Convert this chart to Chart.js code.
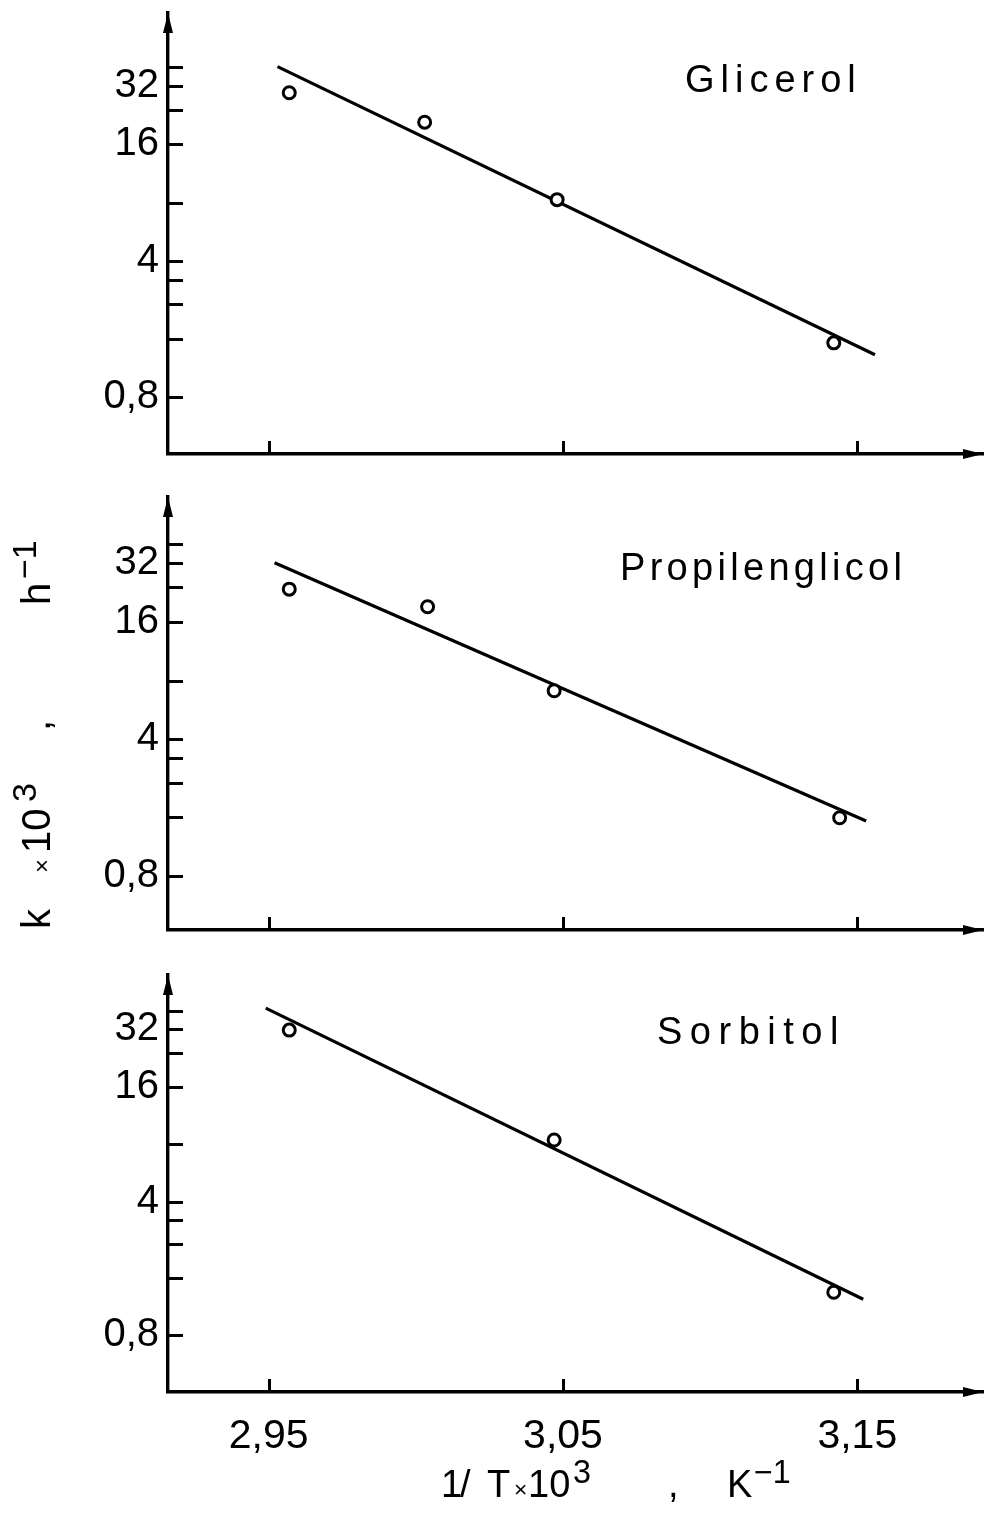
<!DOCTYPE html>
<html>
<head>
<meta charset="utf-8">
<script src="https://cdn.jsdelivr.net/npm/chart.js@4.4.1/dist/chart.umd.min.js"></script>
<style>
  html, body { margin: 0; padding: 0; background: #fff; }
  #wrap { position: relative; width: 992px; height: 1530px; overflow: hidden; }
  canvas { position: absolute; left: 0; }
</style>
</head>
<body>
<div id="wrap"></div>
<script>
// Arrhenius plots: rate constant k (log scale) against 1/T for three polyols
const xTicks = [2.95, 3.05, 3.15];
const xTickLabels = ['2,95', '3,05', '3,15'];
const yTicks = [0.8, 1.6, 2.4, 3.2, 4, 8, 16, 24, 32, 40];
const yLabelValues = [0.8, 4, 16, 32];
const yLabelTexts = ['0,8', '4', '16', '32'];

const glicerolX = [2.957, 3.003, 3.048, 3.142];
const glicerolK = [29.5, 20.8, 8.3, 1.52];
const glicerolFitX = [2.953, 3.156];
const glicerolFitK = [40.2, 1.32];

const propilenX = [2.957, 3.004, 3.047, 3.144];
const propilenK = [23.5, 19.1, 7.1, 1.59];
const propilenFitX = [2.952, 3.153];
const propilenFitK = [32.1, 1.53];

const sorbitolX = [2.957, 3.047, 3.142];
const sorbitolK = [31.6, 8.4, 1.34];
const sorbitolFitX = [2.949, 3.152];
const sorbitolFitK = [41.2, 1.23];

const FONT = '"Liberation Sans", Arial, sans-serif';
const X_MIN = 2.9158, X_MAX = 3.1927;

function pts(xs, ys) { return xs.map((x, i) => ({ x: x, y: ys[i] })); }

function drawRuns(ctx, runs, size) {
  runs.forEach(r => {
    const s = size * (r.scale || 1);
    ctx.font = s + 'px ' + FONT;
    ctx.fillText(r.t, r.dx, r.sup ? -size * 0.36 : 0);
  });
}

// axis arrows, inward tick marks, panel names and axis titles
const decor = {
  id: 'decor',
  afterDraw(chart, args, o) {
    const ctx = chart.ctx;
    const { left, right, top, bottom } = chart.chartArea;
    const xs = chart.scales.x, ys = chart.scales.y;
    ctx.save();
    ctx.strokeStyle = '#000';
    ctx.fillStyle = '#000';
    ctx.lineWidth = 3;
    ctx.beginPath();
    yTicks.forEach(v => {
      const y = Math.round(ys.getPixelForValue(v)) + 0.5;
      ctx.moveTo(left, y); ctx.lineTo(left + 15, y);
    });
    xTicks.forEach(v => {
      const x = Math.round(xs.getPixelForValue(v)) + 0.5;
      ctx.moveTo(x, bottom); ctx.lineTo(x, bottom - 13);
    });
    ctx.stroke();
    // arrow heads
    ctx.beginPath();
    ctx.moveTo(left, top); ctx.lineTo(left - 5, top + 20); ctx.lineTo(left + 5, top + 20); ctx.closePath();
    ctx.moveTo(right, bottom); ctx.lineTo(right - 20, bottom - 5); ctx.lineTo(right - 20, bottom + 5); ctx.closePath();
    ctx.fill();

    // panel name
    ctx.font = '38px ' + FONT;
    ctx.letterSpacing = o.spacing + 'px';
    ctx.textBaseline = 'alphabetic';
    ctx.fillText(o.name, o.nameX, o.nameY);
    ctx.letterSpacing = '0px';

    if (o.yTitle) {
      ctx.save();
      ctx.translate(o.yTitle.x, o.yTitle.y);
      ctx.rotate(-Math.PI / 2);
      drawRuns(ctx, o.yTitle.runs, 40);
      ctx.restore();
    }
    if (o.xTitle) {
      ctx.save();
      ctx.translate(0, o.xTitle.y);
      drawRuns(ctx, o.xTitle.runs, 38);
      ctx.restore();
    }
    ctx.restore();
  }
};

function makePanel(p) {
  const c = document.createElement('canvas');
  c.width = 992; c.height = p.h;
  c.style.top = p.top + 'px';
  document.getElementById('wrap').appendChild(c);
  const plotTop = p.plotTop - p.top;
  const plotBottom = p.axisY - p.top;
  new Chart(c, {
    type: 'scatter',
    data: {
      datasets: [
        {
          data: pts(p.x, p.k),
          showLine: false,
          pointStyle: 'circle',
          pointRadius: 6,
          pointBorderWidth: 3,
          pointBackgroundColor: '#fff',
          pointBorderColor: '#000'
        },
        {
          data: pts(p.fitX, p.fitK),
          showLine: true,
          borderColor: '#000',
          borderWidth: 3.2,
          pointRadius: 0,
          fill: false
        }
      ]
    },
    options: {
      responsive: false,
      animation: false,
      devicePixelRatio: 1,
      events: [],
      layout: { padding: { left: 0, right: 7, top: plotTop, bottom: 0 } },
      plugins: {
        legend: { display: false },
        tooltip: { enabled: false },
        decor: {
          name: p.name, nameX: p.nameX, nameY: p.nameY - p.top, spacing: p.spacing,
          yTitle: p.yTitle ? { x: p.yTitle.x, y: p.yTitle.y - p.top, runs: p.yTitle.runs } : null,
          xTitle: p.xTitle ? { y: p.xTitle.y - p.top, runs: p.xTitle.runs } : null
        }
      },
      scales: {
        x: {
          type: 'linear',
          min: X_MIN, max: X_MAX,
          afterBuildTicks: s => { s.ticks = xTicks.map(v => ({ value: v })); },
          afterFit: s => {
            s.height = p.h - plotBottom;
            s.paddingLeft = 0; s.paddingRight = 0;
          },
          grid: { display: false, drawTicks: false },
          border: { display: true, width: 3.4, color: '#000' },
          ticks: {
            display: !!p.showX,
            autoSkip: false, maxRotation: 0, padding: 20,
            color: '#000', font: { family: FONT, size: 41 },
            callback: (v, i) => xTickLabels[i]
          }
        },
        y: {
          type: 'logarithmic',
          min: p.yMin, max: p.yMax,
          afterBuildTicks: s => { s.ticks = yTicks.map(v => ({ value: v })); },
          afterFit: s => {
            s.width = 168;
            s.paddingTop = 0; s.paddingBottom = 0;
          },
          grid: { display: false, drawTicks: false },
          border: { display: true, width: 3.4, color: '#000' },
          ticks: {
            autoSkip: false, padding: 9,
            color: '#000', font: { family: FONT, size: 40 },
            callback: v => {
              const j = yLabelValues.findIndex(l => Math.abs(l - v) < 1e-6);
              return j >= 0 ? yLabelTexts[j] : '';
            }
          }
        }
      }
    },
    plugins: [decor]
  });
}

makePanel({
  top: 0, h: 470, plotTop: 13, axisY: 454, yMin: 0.407, yMax: 75.9,
  x: glicerolX, k: glicerolK, fitX: glicerolFitX, fitK: glicerolFitK,
  name: 'Glicerol', nameX: 685, nameY: 92, spacing: 6
});

makePanel({
  top: 480, h: 465, plotTop: 497, axisY: 930, yMin: 0.4235, yMax: 69.6,
  x: propilenX, k: propilenK, fitX: propilenFitX, fitK: propilenFitK,
  name: 'Propilenglicol', nameX: 620, nameY: 580, spacing: 4.3,
  yTitle: {
    x: 50, y: 929,
    runs: [
      { t: 'k', dx: 0 },
      { t: '×', dx: 56, scale: 0.6 },
      { t: '10', dx: 76 },
      { t: '3', dx: 127, sup: true, scale: 0.85 },
      { t: ',', dx: 198 },
      { t: 'h', dx: 324 },
      { t: '−1', dx: 350, sup: true, scale: 0.85 }
    ]
  }
});

makePanel({
  top: 955, h: 575, plotTop: 975, axisY: 1392, yMin: 0.4023, yMax: 61.4,
  x: sorbitolX, k: sorbitolK, fitX: sorbitolFitX, fitK: sorbitolFitK,
  name: 'Sorbitol', nameX: 657, nameY: 1044, spacing: 7.5,
  showX: true,
  xTitle: {
    y: 1497,
    runs: [
      { t: '1', dx: 441 },
      { t: '/', dx: 460 },
      { t: 'T', dx: 487 },
      { t: '×', dx: 514, scale: 0.6 },
      { t: '10', dx: 528 },
      { t: '3', dx: 573, sup: true, scale: 0.85 },
      { t: ',', dx: 668 },
      { t: 'K', dx: 727 },
      { t: '−1', dx: 754, sup: true, scale: 0.85 }
    ]
  }
});
</script>
</body>
</html>
